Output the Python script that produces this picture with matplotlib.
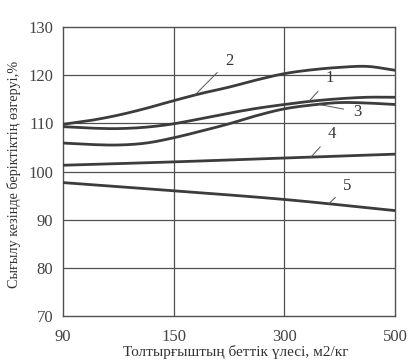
import numpy as np
import matplotlib
matplotlib.use("Agg")
import matplotlib.pyplot as plt

plt.rcParams['font.family'] = ['Liberation Serif', 'DejaVu Serif']

# categories (evenly spaced on the axis)
x_labels = ['90', '150', '300', '500']
# reading positions (in category-index units)
x_fine = [0, 0.25, 0.5, 0.75, 1.0, 1.25, 1.5, 1.75, 2.0, 2.25, 2.5, 2.75, 3.0]
x_coarse = [0, 1, 2, 3]

curve1 = [109.3, 109.0, 108.9, 109.2, 109.9, 111.0, 112.1, 113.1, 113.9, 114.6, 115.1, 115.4, 115.4]
curve2 = [109.8, 110.6, 111.7, 113.1, 114.7, 116.2, 117.5, 119.0, 120.3, 121.1, 121.6, 121.8, 121.0]
curve3 = [105.9, 105.6, 105.5, 105.9, 107.0, 108.4, 109.9, 111.6, 113.0, 113.8, 114.3, 114.2, 113.9]
curve4 = [101.3, 102.0, 102.8, 103.6]
curve5 = [97.7, 96.0, 94.2, 91.9]

y_ticks = [70, 80, 90, 100, 110, 120, 130]

# label: (text x, text y, leader target x)
labels = {
    '1': (2.41, 119.3, 2.22, curve1, x_fine),
    '2': (1.50, 123.0, 1.19, curve2, x_fine),
    '3': (2.66, 112.4, 2.31, curve3, x_fine),
    '4': (2.43, 107.8, 2.24, curve4, x_coarse),
    '5': (2.57, 97.0, 2.40, curve5, x_coarse),
}


def smooth(xs, ys, n=20):
    xs = np.asarray(xs, float)
    ys = np.asarray(ys, float)
    if len(xs) < 3:
        return xs, ys
    px = np.concatenate([[2 * xs[0] - xs[1]], xs, [2 * xs[-1] - xs[-2]]])
    py = np.concatenate([[2 * ys[0] - ys[1]], ys, [2 * ys[-1] - ys[-2]]])
    ox, oy = [], []
    for i in range(1, len(px) - 2):
        t = np.linspace(0, 1, n, endpoint=False)
        p0, p1, p2, p3 = py[i - 1], py[i], py[i + 1], py[i + 2]
        yy = 0.5 * ((2 * p1) + (-p0 + p2) * t + (2 * p0 - 5 * p1 + 4 * p2 - p3) * t ** 2
                    + (-p0 + 3 * p1 - 3 * p2 + p3) * t ** 3)
        xx = px[i] + (px[i + 1] - px[i]) * t
        ox.extend(xx)
        oy.extend(yy)
    ox.append(xs[-1])
    oy.append(ys[-1])
    return np.array(ox), np.array(oy)


fig = plt.figure(figsize=(4.18, 3.63), dpi=100)
ax = fig.add_axes([0.151, 0.129, 0.794, 0.797])

line_color = '#3c3c3c'
grid_color = '#505050'

for yv in y_ticks[1:-1]:
    ax.axhline(yv, color=grid_color, lw=0.9, zorder=1)
for xv in [1, 2]:
    ax.axvline(xv, color=grid_color, lw=0.9, zorder=1)

for ys, xs in [(curve1, x_fine), (curve2, x_fine), (curve3, x_fine),
               (curve4, x_coarse), (curve5, x_coarse)]:
    sx, sy = smooth(xs, ys)
    ax.plot(sx, sy, color=line_color, lw=2.0, zorder=3, solid_capstyle='round')

for name, (tx, ty, lx, ys, xs) in labels.items():
    ly = np.interp(lx, xs, ys)
    ax.annotate(name, xy=(lx, ly), xytext=(tx, ty), fontsize=12, color='#333333',
                ha='center', va='center',
                arrowprops=dict(arrowstyle='-', color='#555555', lw=0.7,
                                shrinkA=5, shrinkB=0))

ax.set_xlim(0, 3)
ax.set_ylim(70, 130)
ax.set_xticks(range(len(x_labels)))
ax.set_xticklabels(x_labels)
ax.set_yticks(y_ticks)
ax.tick_params(length=0, labelsize=12, colors='#444444')
ax.tick_params(axis='x', pad=9)
ax.tick_params(axis='y', pad=7)
for sp in ax.spines.values():
    sp.set_color(grid_color)
    sp.set_linewidth(1.0)

ax.set_ylabel('Сығылу кезінде беріктіктің өзгеруі,%', fontsize=10.3, color='#333333')
ax.yaxis.set_label_coords(-0.128, 0.49)
ax.set_xlabel('Толтырғыштың беттік үлесі, м2/кг', fontsize=11, color='#333333')
ax.xaxis.set_label_coords(0.52, -0.10)

fig.savefig('out.png', dpi=100)
